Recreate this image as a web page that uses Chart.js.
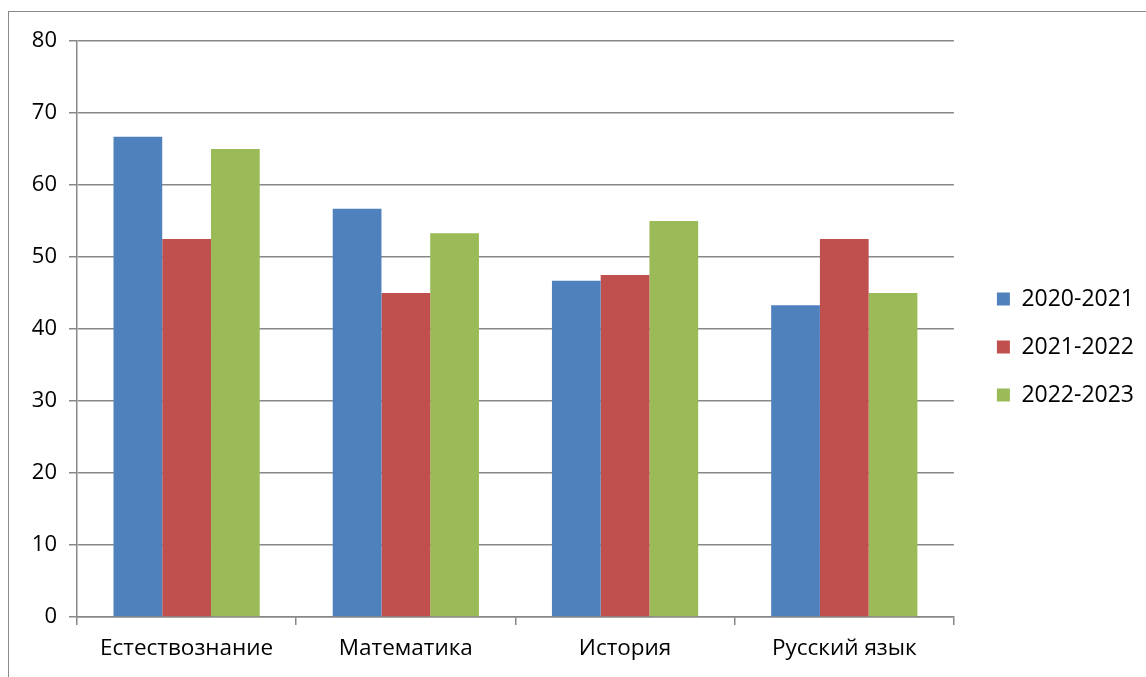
<!DOCTYPE html>
<html>
<head>
<meta charset="utf-8">
<script src="https://cdn.jsdelivr.net/npm/chart.js@4"></script>
<style>
  html, body { margin: 0; padding: 0; background: #fff; overflow: hidden; }
  #frame { position: absolute; left: 8px; top: 11px; width: 1300px; height: 800px; border: 1.5px solid #8a8a8a; }
  #wrap { position: absolute; left: 0; top: 0; width: 1146px; height: 677px; }
</style>
</head>
<body>
<div id="frame"></div>
<div id="wrap"><canvas id="chartCanvas"></canvas></div>
<script>
const categories = ['Естествознание', 'Математика', 'История', 'Русский язык'];
const seriesNames = ['2020-2021', '2021-2022', '2022-2023'];
const values2020 = [66.7, 56.7, 46.7, 43.3];
const values2021 = [52.5, 45.0, 47.5, 52.5];
const values2022 = [65.0, 53.3, 55.0, 45.0];
const colors = ['#4F81BD', '#C0504D', '#9BBB59'];

const gridColor = '#888888';
const fontFamily = '"Open Sans", "Noto Sans", sans-serif';

// legend sits up and to the right of where Chart.js puts it
const legendShift = {
    id: 'legendShift',
    afterUpdate(chart) {
        const lg = chart.legend;
        lg.top -= 12;
        lg.bottom -= 12;
        lg.left += 18;
        lg.right += 18;
        lg.adjustHitBoxes();
    }
};

const ctx = document.getElementById('chartCanvas').getContext('2d');
new Chart(ctx, {
    type: 'bar',
    data: {
        labels: categories,
        datasets: [values2020, values2021, values2022].map((vals, i) => ({
            label: seriesNames[i],
            data: vals,
            backgroundColor: colors[i],
            borderWidth: 0,
            categoryPercentage: 0.667,
            barPercentage: 1.0
        }))
    },
    options: {
        responsive: true,
        maintainAspectRatio: false,
        animation: false,
        layout: { padding: { left: 0, top: 41, right: 20, bottom: 0 } },
        plugins: {
            tooltip: { enabled: false },
            legend: {
                position: 'right',
                align: 'center',
                labels: {
                    color: '#000',
                    font: { family: fontFamily, size: 23 },
                    boxWidth: 13,
                    boxHeight: 13,
                    padding: 25
                }
            }
        },
        scales: {
            x: {
                offset: true,
                grid: {
                    offset: true,
                    drawOnChartArea: false,
                    drawTicks: true,
                    tickLength: 8,
                    color: gridColor,
                    lineWidth: 1.5
                },
                border: { display: true, color: gridColor, width: 1.5 },
                ticks: {
                    color: '#000',
                    font: { family: fontFamily, size: 22.5 },
                    padding: 10,
                    maxRotation: 0
                },
                afterFit: (scale) => { scale.height = 60; }
            },
            y: {
                min: 0,
                max: 80,
                ticks: {
                    stepSize: 10,
                    color: '#000',
                    font: { family: fontFamily, size: 22 },
                    padding: 12
                },
                grid: {
                    color: gridColor,
                    lineWidth: 1.5,
                    tickLength: 8
                },
                border: { display: true, color: gridColor, width: 1.5 },
                afterFit: (scale) => { scale.width = 77; }
            }
        }
    },
    plugins: [legendShift]
});
</script>
</body>
</html>
